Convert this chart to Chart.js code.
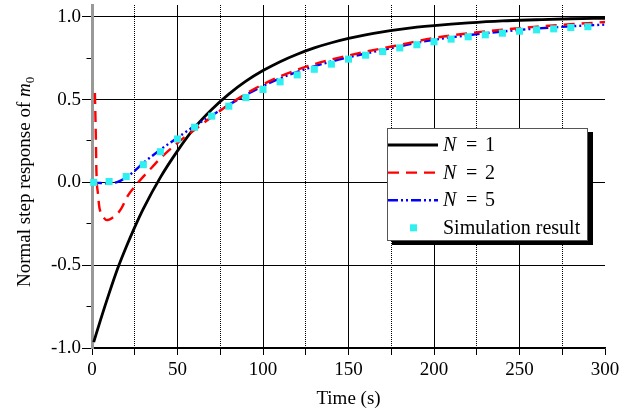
<!DOCTYPE html>
<html>
<head>
<meta charset="utf-8">
<script src="https://cdn.jsdelivr.net/npm/chart.js@4.4.1/dist/chart.umd.min.js"></script>
<style>
  html, body { margin: 0; padding: 0; background: #fff; }
  #wrap { width: 620px; height: 410px; }
</style>
</head>
<body>
<div id="wrap"><canvas id="stepChart" width="620" height="410"></canvas></div>
<script>
const SERIF = "'Liberation Serif', 'Times New Roman', serif";

// ── data ─────────────────────────────────────────────────
const n1Time  = [1, 5, 10, 15, 20, 25, 30, 40, 50, 60, 70, 80, 90, 100, 110, 120, 130, 140, 150,
                 160, 170, 180, 190, 200, 220, 240, 260, 280, 300];
const n1Value = [-0.965, -0.83, -0.67, -0.52, -0.39, -0.27, -0.16, 0.03, 0.19, 0.33, 0.44, 0.533, 0.611,
                 0.675, 0.729, 0.774, 0.812, 0.843, 0.869, 0.891, 0.909, 0.924, 0.937, 0.947, 0.963, 0.975,
                 0.982, 0.988, 0.991];

const n2Time  = [1.7, 2.2, 2.6, 3.5, 4.3, 5.5, 7, 8.6, 10, 12, 14, 17, 21, 25, 30, 35, 40, 50, 60, 70,
                 80, 90, 100, 110, 120, 130, 140, 150, 160, 170, 180, 190, 200, 220, 240, 260, 280, 300];
const n2Value = [0.54, 0.3, 0.06, -0.07, -0.15, -0.19, -0.215, -0.228, -0.225, -0.213, -0.198, -0.16,
                 -0.08, -0.025, 0.035, 0.09, 0.145, 0.238, 0.317, 0.395, 0.47, 0.535, 0.592, 0.64,
                 0.68, 0.714, 0.742, 0.766, 0.789, 0.81, 0.83, 0.852, 0.872, 0.9, 0.922, 0.94, 0.955, 0.968];

const n5Time  = [0, 5, 10, 15, 20, 25, 30, 40, 50, 60, 70, 80, 90, 100, 110, 120, 130, 140, 150,
                 160, 170, 180, 190, 200, 220, 240, 260, 280, 300];
const n5Value = [0.0, -0.004, -0.006, 0.003, 0.03, 0.07, 0.117, 0.197, 0.27, 0.34, 0.404, 0.468, 0.528,
                 0.582, 0.628, 0.667, 0.701, 0.73, 0.755, 0.778, 0.8, 0.821, 0.843, 0.861, 0.889, 0.911,
                 0.929, 0.942, 0.953];

const simTime  = [1, 10, 20, 30, 40, 50, 60, 70, 80, 90, 100, 110, 120, 130, 140, 150, 160, 170, 180,
                  190, 200, 210, 220, 230, 240, 250, 260, 270, 280, 290];
const simValue = [0.0, 0.005, 0.035, 0.107, 0.185, 0.262, 0.333, 0.4, 0.46, 0.512, 0.561, 0.607, 0.649,
                  0.683, 0.714, 0.744, 0.768, 0.79, 0.812, 0.831, 0.849, 0.865, 0.879, 0.891, 0.901,
                  0.913, 0.921, 0.927, 0.935, 0.94];

const xTickValues  = [0, 25, 50, 75, 100, 125, 150, 175, 200, 225, 250, 275, 300];
const xLabelValues = [0, 50, 100, 150, 200, 250, 300];
const yTickValues  = [-1, -0.75, -0.5, -0.25, 0, 0.25, 0.5, 0.75, 1];
const yLabelValues = [-1, -0.5, 0, 0.5, 1];

const xTitle = 'Time (s)';
const yTitle = 'Normal step response of ';

const toPoints = (xs, ys) => xs.map((x, i) => ({ x, y: ys[i] }));
const isLabelled = (list, v) => list.some(l => Math.abs(l - v) < 1e-9);

// ── legend drawn as a framed box with a drop shadow ──────
const boxLegend = {
  id: 'boxLegend',
  afterDraw(chart) {
    const { ctx, chartArea } = chart;
    const x = chartArea.left + 295, y = chartArea.top + 123, w = 201, h = 113;
    ctx.save();
    ctx.fillStyle = '#000';
    ctx.fillRect(x + 5, y + 4, w, h);
    ctx.fillStyle = '#fff';
    ctx.fillRect(x, y, w, h);
    ctx.strokeStyle = '#555';
    ctx.lineWidth = 1;
    ctx.strokeRect(x + 0.5, y + 0.5, w - 1, h - 1);

    chart.data.datasets.forEach((ds, i) => {
      const rowY = y + 17 + i * 27.6;
      if (ds.showLine === false) {
        ctx.fillStyle = ds.backgroundColor;
        ctx.fillRect(x + 23, rowY - 3.5, 7, 7);
      } else {
        ctx.strokeStyle = ds.borderColor;
        ctx.lineWidth = ds.borderWidth;
        ctx.setLineDash(ds.borderDash || []);
        ctx.beginPath();
        ctx.moveTo(x + 1, rowY);
        ctx.lineTo(x + 51, rowY);
        ctx.stroke();
        ctx.setLineDash([]);
      }
      ctx.fillStyle = '#000';
      ctx.textBaseline = 'middle';
      const parts = ds.label.split(' = ');
      if (parts.length === 2) {
        ctx.font = `italic 20px ${SERIF}`;
        ctx.fillText(parts[0], x + 56, rowY + 1);
        ctx.font = `20px ${SERIF}`;
        ctx.fillText('=', x + 79, rowY + 1);
        ctx.fillText(parts[1], x + 98, rowY + 1);
      } else {
        ctx.font = `20px ${SERIF}`;
        ctx.fillText(ds.label, x + 56, rowY + 1);
      }
    });
    ctx.restore();
  },
};

// ── y title with italic m and subscript 0 ────────────────
const yAxisTitle = {
  id: 'yAxisTitle',
  afterDraw(chart) {
    const { ctx } = chart;
    ctx.save();
    ctx.translate(29.5, 287);
    ctx.rotate(-Math.PI / 2);
    ctx.fillStyle = '#000';
    ctx.textBaseline = 'alphabetic';
    ctx.font = `19px ${SERIF}`;
    ctx.fillText(yTitle, 0, 0);
    let px = ctx.measureText(yTitle).width;
    ctx.font = `italic 19px ${SERIF}`;
    ctx.fillText('m', px, 0);
    px += ctx.measureText('m').width;
    ctx.font = `13px ${SERIF}`;
    ctx.fillText('0', px, 4);
    ctx.restore();
  },
};

const ctx = document.getElementById('stepChart').getContext('2d');
new Chart(ctx, {
  type: 'line',
  data: {
    datasets: [
      {
        label:       'N = 1',
        data:        toPoints(n1Time, n1Value),
        borderColor: '#000',
        borderWidth: 2.8,
        pointRadius: 0,
        cubicInterpolationMode: 'monotone',
        order:       3,
      },
      {
        label:       'N = 2',
        data:        toPoints(n2Time, n2Value),
        borderColor: '#ff0000',
        borderWidth: 2.4,
        borderDash:  [11, 7],
        pointRadius: 0,
        cubicInterpolationMode: 'monotone',
        order:       1,
      },
      {
        label:       'N = 5',
        data:        toPoints(n5Time, n5Value),
        borderColor: '#0000ff',
        borderWidth: 2.4,
        borderDash:  [10, 3, 2, 3, 2, 3],
        pointRadius: 0,
        cubicInterpolationMode: 'monotone',
        order:       2,
      },
      {
        label:           'Simulation result',
        data:            toPoints(simTime, simValue),
        showLine:        false,
        backgroundColor: '#2ef0f0',
        borderWidth:     0,
        pointStyle:      'rect',
        pointRadius:     5,
        clip:            8,
        order:           0,
      },
    ],
  },
  options: {
    responsive: false,
    animation:  false,
    events:     [],
    layout: { padding: { top: 0, right: 15, bottom: 0, left: 0 } },
    plugins: {
      legend:  { display: false },
      tooltip: { enabled: false },
    },
    scales: {
      x: {
        type: 'linear',
        min:  0,
        max:  300,
        afterBuildTicks: (s) => { s.ticks = xTickValues.map(v => ({ value: v })); },
        afterFit: (s) => { s.height = 62; s.paddingLeft = 0; s.paddingRight = 0; },
        ticks: {
          autoSkip:    false,
          maxRotation: 0,
          padding:     4,
          color:       '#000',
          font:        { family: SERIF, size: 19 },
          callback:    (v) => (isLabelled(xLabelValues, v) ? String(v) : ''),
        },
        grid: {
          color: (c) => {
            const v = c.tick ? c.tick.value : 0;
            return v === 0 || v === 300 ? 'rgba(0,0,0,0)' : '#000';
          },
          lineWidth:  1,
          tickColor:  '#000',
          tickLength: 7,
        },
        border: {
          color: '#000',
          width: 1.5,
          dash:  (c) => (c.tick && !isLabelled(xLabelValues, c.tick.value) ? [1, 1] : []),
        },
        title: {
          display: true,
          text:    xTitle,
          color:   '#000',
          font:    { family: SERIF, size: 19, lineHeight: 1 },
          padding: { top: 0, bottom: 1 },
        },
      },
      y: {
        type: 'linear',
        min:  -1,
        max:  1.071,
        afterBuildTicks: (s) => { s.ticks = yTickValues.map(v => ({ value: v })); },
        afterFit: (s) => { s.width = 92; s.paddingTop = 0; s.paddingBottom = 0; },
        ticks: {
          padding:  1,
          color:    '#000',
          font:     { family: SERIF, size: 19 },
          callback: (v) => (isLabelled(yLabelValues, v) ? v.toFixed(1) : ''),
        },
        grid: {
          color: (c) => (c.tick && isLabelled(yLabelValues, c.tick.value) ? '#000' : 'rgba(0,0,0,0)'),
          lineWidth:  1,
          tickColor:  '#000',
          tickLength: 10,
          tickBorderDash: (c) => (c.tick && !isLabelled(yLabelValues, c.tick.value) ? [6, 4.5] : []),
          tickBorderDashOffset: (c) => (c.tick && !isLabelled(yLabelValues, c.tick.value) ? 6 : 0),
        },
        border: {
          color: '#999',
          width: 3,
        },
      },
    },
  },
  plugins: [boxLegend, yAxisTitle],
});
</script>
</body>
</html>
